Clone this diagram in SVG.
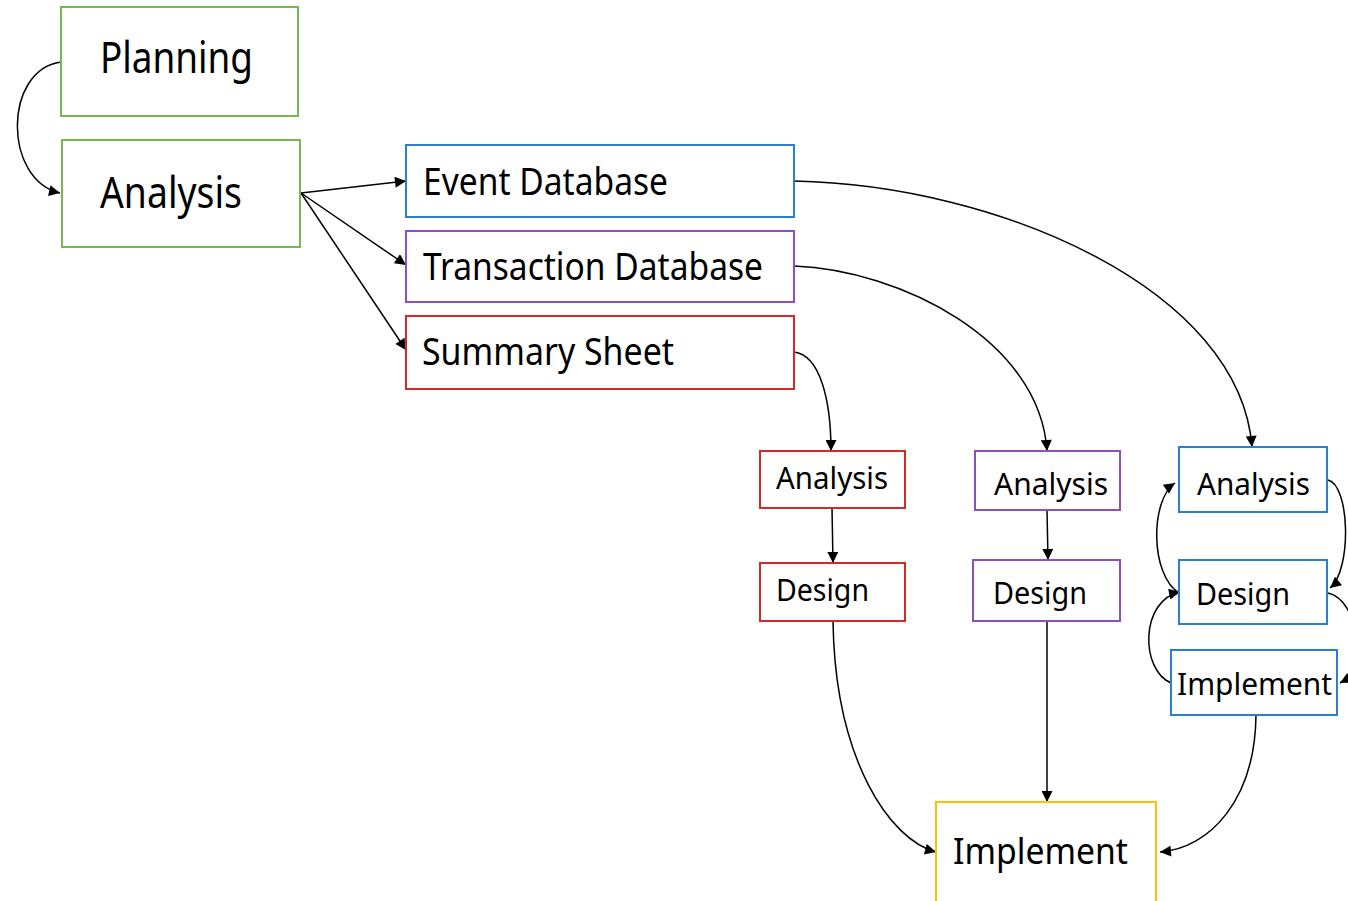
<svg xmlns="http://www.w3.org/2000/svg" width="1348" height="901" viewBox="0 0 1348 901">
<style>
.box{fill:#fff;stroke-width:2}
.g{stroke:#77b74f}.b{stroke:#2a7fcf}.p{stroke:#8b4fc4}.r{stroke:#d62828}.y{stroke:#ffc000}
text{font-family:"Noto Sans","Liberation Sans",sans-serif;fill:#000}
.c{fill:none;stroke:#000;stroke-width:1.5;marker-end:url(#ah)}
</style>
<defs>
<marker id="ah" viewBox="0 0 10 10" refX="10" refY="5" markerWidth="13" markerHeight="11" markerUnits="userSpaceOnUse" orient="auto">
<path d="M0,0 L10,5 L0,10 Z" fill="#000"/>
</marker>
</defs>
<rect width="1348" height="901" fill="#fff"/>
<g id="connectors">
<path class="c" d="M61,62 C3,70 3,180 60,193"/>
<path class="c" d="M301,193 L406,181"/>
<path class="c" d="M301,193 L406,265"/>
<path class="c" d="M301,193 L406,350"/>
<path class="c" d="M794,181 C1000,185 1240,290 1252,447"/>
<path class="c" d="M794,266 C900,270 1040,340 1047,451"/>
<path class="c" d="M794,352 C820,355 831,400 831,451"/>
<path class="c" d="M832,508 L833,563"/>
<path class="c" d="M1047,510 L1048,560"/>
<path class="c" d="M1047,621 L1047,802"/>
<path class="c" d="M833,621 C835,760 890,840 936,852"/>
<path class="c" d="M1256,715 C1255,800 1210,848 1160,852"/>
<path class="c" d="M1328,480 C1350,485 1352,570 1330,588"/>
<path class="c" d="M1179,593 C1150,575 1150,500 1175,483"/>
<path class="c" d="M1171,683 C1140,670 1140,600 1180,592"/>
<path class="c" d="M1328,593 C1360,600 1365,670 1340,683"/>
</g>
<g id="planning"><rect class="box g" x="61" y="7" width="237" height="109"/><text x="100" y="73" font-size="43" textLength="153" lengthAdjust="spacingAndGlyphs">Planning</text></g>
<g id="analysis"><rect class="box g" x="62" y="140" width="238" height="107"/><text x="100" y="208" font-size="43" textLength="142" lengthAdjust="spacingAndGlyphs">Analysis</text></g>
<g id="event-db"><rect class="box b" x="406" y="145" width="388" height="72"/><text x="423" y="195" font-size="38" textLength="245" lengthAdjust="spacingAndGlyphs">Event Database</text></g>
<g id="transaction-db"><rect class="box p" x="406" y="231" width="388" height="71"/><text x="423" y="280" font-size="38" textLength="340" lengthAdjust="spacingAndGlyphs">Transaction Database</text></g>
<g id="summary-sheet"><rect class="box r" x="406" y="316" width="388" height="73"/><text x="422" y="365" font-size="38" textLength="252" lengthAdjust="spacingAndGlyphs">Summary Sheet</text></g>
<g id="red-analysis"><rect class="box r" x="760" y="451" width="145" height="57"/><text x="776" y="489" font-size="30" textLength="112" lengthAdjust="spacingAndGlyphs">Analysis</text></g>
<g id="red-design"><rect class="box r" x="760" y="563" width="145" height="58"/><text x="776" y="601" font-size="30" textLength="93" lengthAdjust="spacingAndGlyphs">Design</text></g>
<g id="purple-analysis"><rect class="box p" x="975" y="451" width="145" height="59"/><text x="994" y="495" font-size="30" textLength="114" lengthAdjust="spacingAndGlyphs">Analysis</text></g>
<g id="purple-design"><rect class="box p" x="973" y="560" width="147" height="61"/><text x="993" y="604" font-size="30" textLength="94" lengthAdjust="spacingAndGlyphs">Design</text></g>
<g id="blue-analysis"><rect class="box b" x="1179" y="447" width="148" height="65"/><text x="1197" y="495" font-size="30" textLength="113" lengthAdjust="spacingAndGlyphs">Analysis</text></g>
<g id="blue-design"><rect class="box b" x="1179" y="560" width="148" height="64"/><text x="1196" y="605" font-size="30" textLength="94" lengthAdjust="spacingAndGlyphs">Design</text></g>
<g id="blue-implement"><rect class="box b" x="1171" y="650" width="166" height="65"/><text x="1177" y="695" font-size="30" textLength="155" lengthAdjust="spacingAndGlyphs">Implement</text></g>
<g id="implement"><rect class="box y" x="936" y="802" width="220" height="104"/><text x="953" y="864" font-size="36" textLength="175" lengthAdjust="spacingAndGlyphs">Implement</text></g>
</svg>
